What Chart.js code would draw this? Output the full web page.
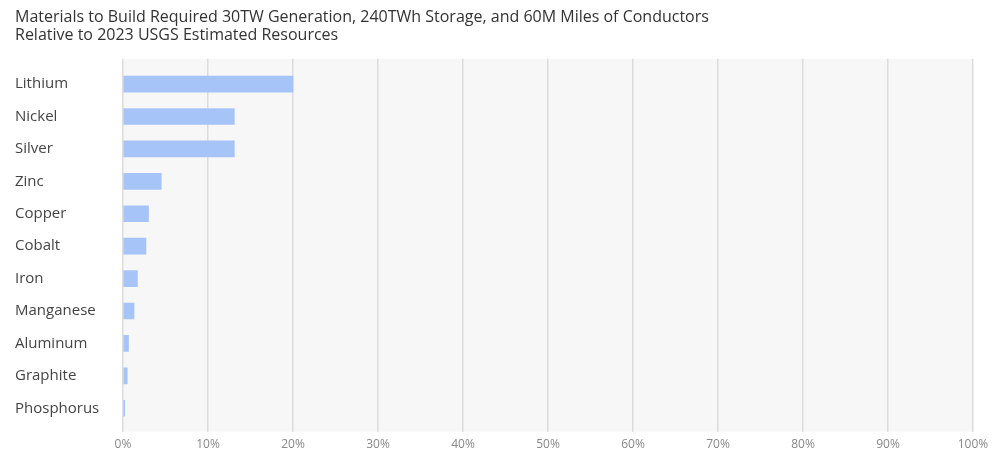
<!DOCTYPE html>
<html>
<head>
<meta charset="utf-8">
<script src="https://cdn.jsdelivr.net/npm/chart.js@4"></script>
<style>
  body { margin: 0; background: #fff; }
  #wrap { width: 1000px; height: 459px; }
</style>
</head>
<body>
<div id="wrap"><canvas id="myChart"></canvas></div>
<script>
var materials = ["Lithium", "Nickel", "Silver", "Zinc", "Copper", "Cobalt", "Iron", "Manganese", "Aluminum", "Graphite", "Phosphorus"];
var shareOfResources = [20, 13.1, 13.1, 4.5, 3.0, 2.7, 1.7, 1.3, 0.65, 0.5, 0.2];
var pctTicks = [0, 10, 20, 30, 40, 50, 60, 70, 80, 90, 100];

// grey panel behind the bars
var plotBg = {
  id: "plotBg",
  beforeDraw(chart) {
    var a = chart.chartArea, c = chart.ctx;
    c.save();
    c.fillStyle = "#f7f7f7";
    c.fillRect(a.left, a.top, a.right - a.left, a.bottom - a.top);
    c.restore();
  }
};

var ctx = document.getElementById("myChart");
var myChart = new Chart(ctx, {
  type: "bar",
  data: {
    datasets: [{
      data: materials.map(function (m, i) { return { x: shareOfResources[i], y: i }; }),
      backgroundColor: "#a6c4f8",
      borderWidth: 0,
      barThickness: 16
    }]
  },
  options: {
    indexAxis: "y",
    responsive: true,
    maintainAspectRatio: false,
    animation: false,
    layout: { padding: { left: 15, right: 27, top: 0, bottom: 1 } },
    plugins: {
      legend: { display: false },
      tooltip: { enabled: false },
      title: {
        display: true,
        align: "start",
        text: ["Materials to Build Required 30TW Generation, 240TWh Storage, and 60M Miles of Conductors",
               "Relative to 2023 USGS Estimated Resources"],
        color: "#333",
        font: { family: "Open Sans", size: 16, weight: "normal", lineHeight: 1.15 },
        padding: { top: 8, bottom: 14 }
      }
    },
    scales: {
      x: {
        type: "linear",
        min: 0,
        max: 100,
        afterBuildTicks(scale) {
          scale.ticks = pctTicks.map(function (v) { return { value: v }; });
        },
        ticks: {
          color: "#888",
          padding: 6,
          font: { family: "Open Sans", size: 12 },
          callback: function (v) { return v + "%"; }
        },
        grid: { color: "#dcdcdc", lineWidth: 1.5, drawTicks: false },
        border: { display: false }
      },
      y: {
        type: "linear",
        reverse: true,
        offset: false,
        min: -0.78,
        max: 10.72,
        afterBuildTicks(scale) {
          scale.ticks = materials.map(function (m, i) { return { value: i }; });
        },
        afterFit(scale) { scale.width = 108; },
        ticks: {
          color: "#444",
          crossAlign: "far",
          font: { family: "Open Sans", size: 15 },
          callback: function (v) { return materials[v]; }
        },
        grid: { display: false },
        border: { display: false }
      }
    }
  },
  plugins: [plotBg]
});
</script>
</body>
</html>
